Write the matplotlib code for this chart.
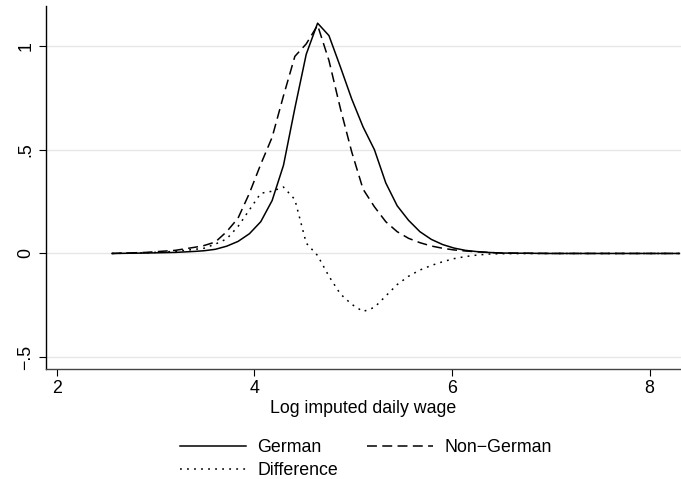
import matplotlib
matplotlib.use("Agg")
import matplotlib.pyplot as plt

plt.rcParams['font.family'] = ['Liberation Sans', 'DejaVu Sans']

# ---- data ----
wage = [2.56, 2.90, 3.20, 3.40, 3.49, 3.605, 3.72, 3.835, 3.95, 4.065,
        4.18, 4.295, 4.41, 4.525, 4.64, 4.755, 4.87, 4.985, 5.10, 5.215,
        5.33, 5.445, 5.56, 5.675, 5.79, 5.905, 6.02, 6.135, 6.25, 6.365,
        6.50, 7.00, 8.30]

german = [0.000, 0.002, 0.005, 0.010, 0.013, 0.020, 0.035, 0.058, 0.095, 0.153,
          0.255, 0.425, 0.700, 0.960, 1.110, 1.050, 0.900, 0.745, 0.610, 0.500,
          0.340, 0.230, 0.160, 0.105, 0.068, 0.043, 0.026, 0.015, 0.009, 0.005,
          0.002, 0.000, 0.000]

non_german = [0.000, 0.005, 0.015, 0.030, 0.038, 0.055, 0.105, 0.170, 0.290, 0.430,
              0.560, 0.760, 0.950, 1.010, 1.100, 0.930, 0.700, 0.490, 0.310, 0.225,
              0.153, 0.105, 0.073, 0.052, 0.036, 0.025, 0.017, 0.012, 0.008, 0.005,
              0.002, 0.000, 0.000]

difference = [0.000, 0.003, 0.010, 0.020, 0.025, 0.045, 0.070, 0.130, 0.210, 0.290,
              0.300, 0.320, 0.260, 0.050, -0.010, -0.110, -0.195, -0.245, -0.280, -0.260,
              -0.205, -0.150, -0.110, -0.080, -0.058, -0.040, -0.025, -0.015, -0.008, -0.003,
              -0.001, 0.000, 0.000]

xticks = [2, 4, 6, 8]
yticks = [-0.5, 0, 0.5, 1]
ytick_labels = ['\u2212.5', '0', '.5', '1']

fs = 12.8

fig = plt.figure(figsize=(6.81, 4.79), dpi=100)
ax = fig.add_axes([0.0671, 0.2296, 0.9329, 0.758])

for y in yticks:
    ax.axhline(y, color='#e6e6e6', lw=1.0, zorder=0)

l1, = ax.plot(wage, german, color='black', lw=1.1, label='German')
l2, = ax.plot(wage, non_german, color='black', lw=1.1, dashes=(6.5, 3.5), label='Non\u2212German')
l3, = ax.plot(wage, difference, color='black', lw=1.1, dashes=(1.2, 3.4), label='Difference')

ax.set_xlim(1.889, 8.317)
ax.set_ylim(-0.557, 1.193)
ax.set_xticks(xticks)
ax.set_xticklabels([str(t) for t in xticks])
ax.set_yticks(yticks)
ax.set_yticklabels(ytick_labels, rotation=90, va='center')
ax.tick_params(direction='out', length=5, width=0.8, labelsize=fs, pad=3)

ax.spines['top'].set_visible(False)
ax.spines['right'].set_visible(False)
ax.spines['left'].set_linewidth(1.0)
ax.spines['bottom'].set_linewidth(1.0)
ax.spines['bottom'].set_color('#444444')

ax.set_xlabel('Log imputed daily wage', fontsize=fs, labelpad=2)

fig.legend([l1, l3, l2], ['German', 'Difference', 'Non\u2212German'],
           ncol=2, loc='upper left', bbox_to_anchor=(0.2643, 0.084),
           frameon=False, fontsize=fs, borderpad=0, borderaxespad=0,
           handlelength=3.7, handletextpad=0.65, columnspacing=1.65,
           labelspacing=0.36)

fig.savefig('out.png', dpi=100)
